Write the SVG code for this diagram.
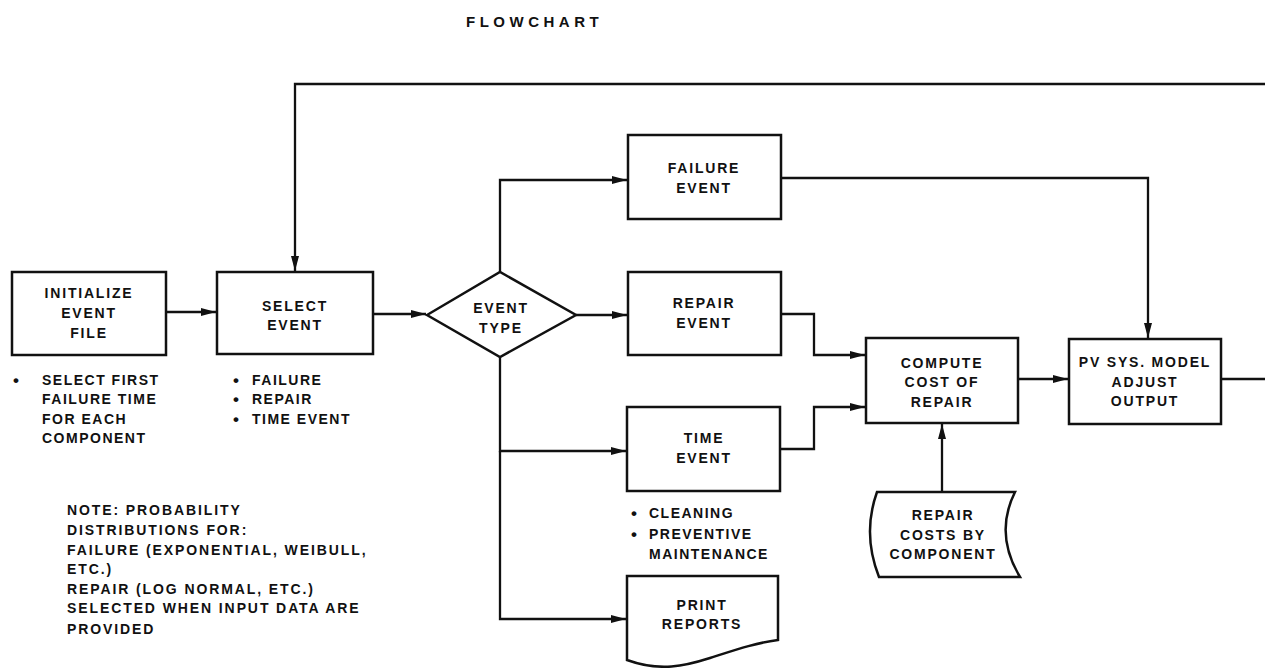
<svg xmlns="http://www.w3.org/2000/svg" width="1265" height="668" viewBox="0 0 1265 668">
<defs>
<style>
.t{font-family:"Liberation Sans",Arial,sans-serif;font-weight:bold;font-size:14px;fill:#111;letter-spacing:1.8px}
.c{text-anchor:middle}
.b{letter-spacing:1.5px}
.n{letter-spacing:1.9px}
.d{font-size:17px;letter-spacing:0}
.box{fill:#fff;stroke:#111;stroke-width:2.5}
.ln{fill:none;stroke:#111;stroke-width:2.3}
.ttl{font-size:15px;letter-spacing:4.5px}
</style>
<marker id="ah" markerWidth="16" markerHeight="10" refX="15" refY="5" orient="auto" markerUnits="userSpaceOnUse">
<path d="M0,1 L15,5 L0,9 Z" fill="#111"/>
</marker>
</defs>
<rect width="1265" height="668" fill="#fff"/>
<text class="t ttl" x="466" y="27">FLOWCHART</text>

<g id="connectors">
<path class="ln" d="M1265,84 H295 V271" marker-end="url(#ah)"/>
<path class="ln" d="M166,312 H216" marker-end="url(#ah)"/>
<path class="ln" d="M373,314 H426" marker-end="url(#ah)"/>
<path class="ln" d="M500,272 V180 H627" marker-end="url(#ah)"/>
<path class="ln" d="M576,315 H627" marker-end="url(#ah)"/>
<path class="ln" d="M500,357 V451 H626" marker-end="url(#ah)"/>
<path class="ln" d="M500,451 V619 H626" marker-end="url(#ah)"/>
<path class="ln" d="M781,178 H1148 V338" marker-end="url(#ah)"/>
<path class="ln" d="M781,314 H814 V355 H865" marker-end="url(#ah)"/>
<path class="ln" d="M780,449 H814 V407 H865" marker-end="url(#ah)"/>
<path class="ln" d="M1018,379 H1068" marker-end="url(#ah)"/>
<path class="ln" d="M1221,379 H1265"/>
<path class="ln" d="M942,492 V424" marker-end="url(#ah)"/>
</g>

<g id="init">
<rect class="box" x="12" y="272" width="154" height="83"/>
<text class="t c" x="89" y="298">INITIALIZE</text>
<text class="t c" x="89" y="318">EVENT</text>
<text class="t c" x="89" y="338">FILE</text>
</g>
<g id="init-notes">
<text class="t b" y="385"><tspan class="d" x="13" dy="1">•</tspan><tspan x="42" dy="-1">SELECT FIRST</tspan></text>
<text class="t b" x="42" y="404">FAILURE TIME</text>
<text class="t b" x="42" y="424">FOR EACH</text>
<text class="t b" x="42" y="443">COMPONENT</text>
</g>

<g id="select">
<rect class="box" x="217" y="272" width="156" height="82"/>
<text class="t c" x="295" y="311">SELECT</text>
<text class="t c" x="295" y="330">EVENT</text>
</g>
<g id="select-notes">
<text class="t b" y="385"><tspan class="d" x="233" dy="1">•</tspan><tspan x="252" dy="-1">FAILURE</tspan></text>
<text class="t b" y="404"><tspan class="d" x="233" dy="1">•</tspan><tspan x="252" dy="-1">REPAIR</tspan></text>
<text class="t b" y="424"><tspan class="d" x="233" dy="1">•</tspan><tspan x="252" dy="-1">TIME EVENT</tspan></text>
</g>

<g id="event-type">
<polygon class="box" points="427,315 500,272 576,315 500,357"/>
<text class="t c" x="501" y="313">EVENT</text>
<text class="t c" x="501" y="333">TYPE</text>
</g>

<g id="failure">
<rect class="box" x="628" y="135" width="153" height="84"/>
<text class="t c" x="704" y="173">FAILURE</text>
<text class="t c" x="704" y="193">EVENT</text>
</g>

<g id="repair">
<rect class="box" x="628" y="272" width="153" height="83"/>
<text class="t c" x="704" y="308">REPAIR</text>
<text class="t c" x="704" y="328">EVENT</text>
</g>

<g id="time">
<rect class="box" x="627" y="407" width="153" height="84"/>
<text class="t c" x="704" y="443">TIME</text>
<text class="t c" x="704" y="463">EVENT</text>
</g>
<g id="time-notes">
<text class="t b" y="518"><tspan class="d" x="631" dy="1">•</tspan><tspan x="649" dy="-1">CLEANING</tspan></text>
<text class="t b" y="539"><tspan class="d" x="631" dy="1">•</tspan><tspan x="649" dy="-1">PREVENTIVE</tspan></text>
<text class="t b" x="649" y="559">MAINTENANCE</text>
</g>

<g id="print">
<path class="box" d="M627,576 H778 V640 C755,643 735,650 710,658 C685,666 660,672 627,660 Z"/>
<text class="t c" x="702" y="610">PRINT</text>
<text class="t c" x="702" y="629">REPORTS</text>
</g>

<g id="compute">
<rect class="box" x="866" y="338" width="152" height="85"/>
<text class="t c" x="942" y="368">COMPUTE</text>
<text class="t c" x="942" y="387">COST OF</text>
<text class="t c" x="942" y="407">REPAIR</text>
</g>

<g id="pv">
<rect class="box" x="1069" y="339" width="152" height="85"/>
<text class="t c" x="1145" y="367">PV SYS. MODEL</text>
<text class="t c" x="1145" y="387">ADJUST</text>
<text class="t c" x="1145" y="406">OUTPUT</text>
</g>

<g id="repair-costs">
<path class="box" d="M877,492 H1015 Q994,534 1020,577 H879 Q862,534 877,492 Z"/>
<text class="t c" x="943" y="520">REPAIR</text>
<text class="t c" x="943" y="540">COSTS BY</text>
<text class="t c" x="943" y="559">COMPONENT</text>
</g>

<g id="note">
<text class="t n" x="67" y="515">NOTE: PROBABILITY</text>
<text class="t n" x="67" y="535">DISTRIBUTIONS FOR:</text>
<text class="t n" x="67" y="555">FAILURE (EXPONENTIAL, WEIBULL,</text>
<text class="t n" x="67" y="574">ETC.)</text>
<text class="t n" x="67" y="594">REPAIR (LOG NORMAL, ETC.)</text>
<text class="t n" x="67" y="613">SELECTED WHEN INPUT DATA ARE</text>
<text class="t n" x="67" y="634">PROVIDED</text>
</g>
</svg>
